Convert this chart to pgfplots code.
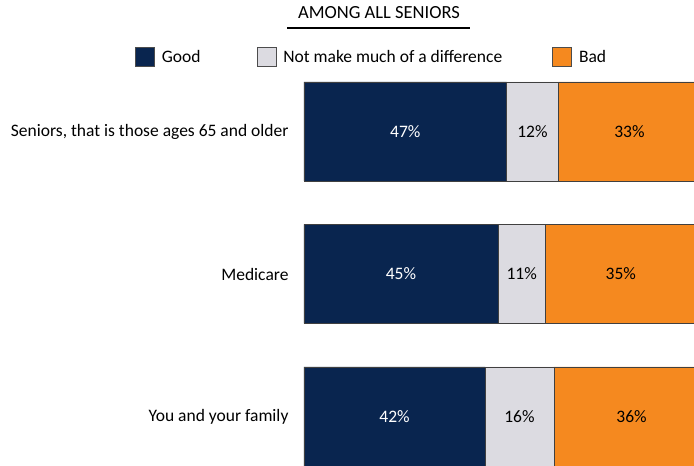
\documentclass[border=0pt]{standalone}
\usepackage{pgfplots}
\pgfplotsset{compat=1.18}
\usepackage{fontspec}
\setmainfont{Carlito}
\definecolor{cnavy}{RGB}{9,37,79}
\definecolor{cgray}{RGB}{220,219,225}
\definecolor{corange}{RGB}{245,137,31}
\begin{document}
\begin{tikzpicture}
\path[use as bounding box] (0pt,0pt) rectangle (694pt,466pt);
\node[font=\fontsize{18.5}{20}\selectfont, anchor=base] at (379pt,447pt) {AMONG ALL SENIORS};
\draw[line width=2pt] (287pt,438pt) -- (470pt,438pt);
\begin{axis}[
  at={(304pt,0pt)}, anchor=south west,
  scale only axis, width=390pt, height=466pt,
  xmin=0, xmax=90.49, ymin=0, ymax=466,
  xbar stacked, bar width=99pt,
  ytick={49.5,192,334.5},
  yticklabels={You and your family, Medicare, {Seniors, that is those ages 65 and older}},
  yticklabel style={font=\fontsize{17.5}{19}\selectfont, xshift=-12pt},
  xtick=\empty,
  hide x axis,
  y axis line style={draw=none},
  ytick style={draw=none},
  major tick length=0pt,
  legend columns=3,
  legend style={draw=none, fill=none, at={(0.172,0.878)}, anchor=center,
    font=\fontsize{17.5}{19}\selectfont,
    /tikz/column 1/.style={column sep=6pt},
    /tikz/column 3/.style={column sep=6pt},
    /tikz/column 5/.style={column sep=6pt},
    /tikz/column 2/.style={column sep=55pt},
    /tikz/column 4/.style={column sep=49pt},
    nodes={inner sep=1pt}},
  legend image code/.code={\draw[#1,draw=black!70,line width=0.8pt] (0pt,-9.5pt) rectangle (19pt,9.5pt);},
]
\addplot[fill=cnavy, draw=black!75, line width=0.8pt] coordinates {(47,334.5) (45,192) (42,49.5)};
\addplot[fill=cgray, draw=black!75, line width=0.8pt] coordinates {(12,334.5) (11,192) (16,49.5)};
\addplot[fill=corange, draw=black!75, line width=0.8pt] coordinates {(33,334.5) (35,192) (36,49.5)};
\legend{Good, Not make much of a difference, Bad}
\end{axis}
\begin{axis}[
  at={(304pt,0pt)}, anchor=south west,
  scale only axis, width=390pt, height=466pt,
  xmin=0, xmax=90.49, ymin=0, ymax=466,
  hide axis,
  nodes near coords style={anchor=center, font=\fontsize{17.5}{19}\selectfont},
]
\addplot[draw=none, mark=none, nodes near coords, point meta=explicit symbolic,
  nodes near coords style={text=white}]
  coordinates {(23.5,334.5)[47\%] (22.5,192)[45\%] (21,49.5)[42\%]};
\addplot[draw=none, mark=none, nodes near coords, point meta=explicit symbolic]
  coordinates {(53,334.5)[12\%] (50.5,192)[11\%] (50,49.5)[16\%]};
\addplot[draw=none, mark=none, nodes near coords, point meta=explicit symbolic]
  coordinates {(75.5,334.5)[33\%] (73.5,192)[35\%] (76,49.5)[36\%]};
\end{axis}
\end{tikzpicture}
\end{document}
